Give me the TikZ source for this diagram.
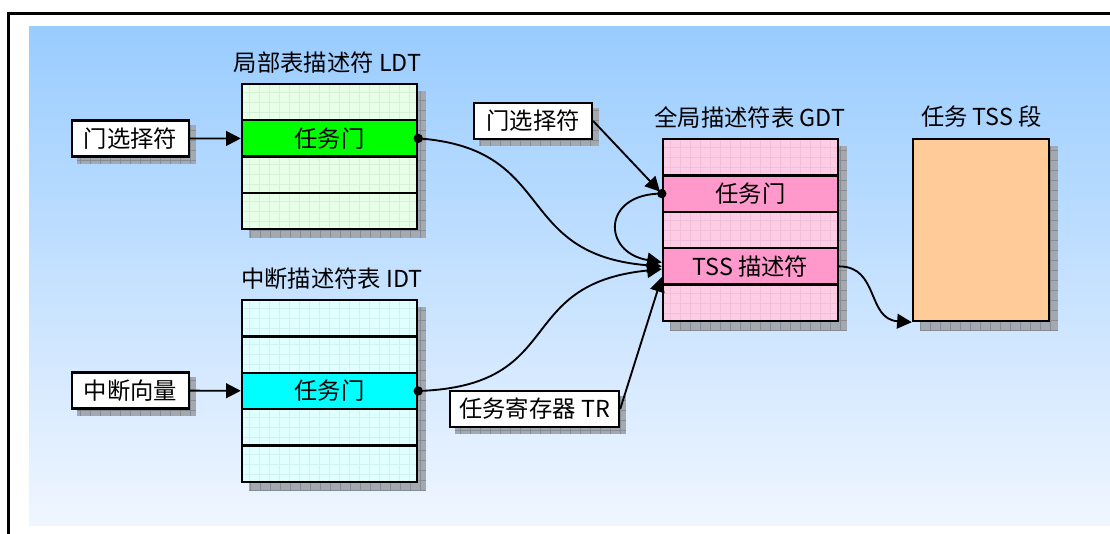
\documentclass[tikz,border=0pt]{standalone}
\usepackage{fontspec}
\newfontfamily\cjk{Noto Sans CJK SC}
\usetikzlibrary{arrows.meta, positioning, backgrounds}
\definecolor{cbgtop}{HTML}{99CCFF}
\definecolor{cbgbot}{HTML}{F0F6FF}
\definecolor{cldt}{HTML}{E6FFE6}
\definecolor{cldtgate}{HTML}{00FF00}
\definecolor{cidt}{HTML}{E0FFFF}
\definecolor{cidtgate}{HTML}{00FFFF}
\definecolor{cgdt}{HTML}{FFCCE6}
\definecolor{cgdtgate}{HTML}{FF99CC}
\definecolor{ctss}{HTML}{FFCC99}
\definecolor{cshadow}{HTML}{A4A9B0}
\definecolor{cshadowgrid}{HTML}{858C96}
\tikzset{
  every picture/.style={font=\cjk\fontsize{17.5}{21}\selectfont},
  cell/.style={draw=black, line width=1.8pt, fill=#1, minimum width=131.25pt, minimum height=27.2pt, inner sep=0pt,
    path picture={\draw[#1!94!black, line width=0.3pt, step=7.5pt] (path picture bounding box.south west) grid (path picture bounding box.north east);}},
  cell/.default=white,
  gate/.style={draw=black, line width=1.8pt, fill=#1, minimum width=131.25pt, minimum height=27.2pt, inner sep=0pt},
  labelbox/.style={draw=black, line width=1.8pt, fill=white, minimum height=27pt, inner sep=0pt},
  link/.style={-{Triangle[length=11pt, width=11pt]}, line width=1.4pt},
  dot/.style={circle, fill=black, inner sep=0pt, minimum size=7pt},
}

\begin{document}
\begin{tikzpicture}[x=0.75pt, y=-0.75pt]
  \useasboundingbox (0,0) rectangle (1110,533);
  \draw[line width=1.8pt] (8.5,545) |- (1120,13.5);
  % local descriptor table
  \node (ldttitle) at (327.5,63) {局部表描述符 LDT};
  \foreach \r in {1,...,4} \node[cell=cldt] (ldt\r) at (329.5,84+36.25*\r-18.125) {};
  \node[gate=cldtgate] (ldtgate) at (ldt2) {任务门};
  \node[labelbox, minimum width=87.75pt] (ldtsel) at (130.5,138.5) {门选择符};
  % interrupt descriptor table
  \node (idttitle) at (332,279) {中断描述符表 IDT};
  \foreach \r in {1,...,5} \node[cell=cidt] (idt\r) at (329.5,300+36.4*\r-18.2) {};
  \node[gate=cidtgate] (idtgate) at (idt3) {任务门};
  \node[labelbox, minimum width=87.75pt] (intvec) at (130.5,390.5) {中断向量};
  % global descriptor table
  \node (gdttitle) at (750,117.5) {全局描述符表 GDT};
  \foreach \r in {1,...,5} \node[cell=cgdt] (gdt\r) at (750.5,139+36.4*\r-18.2) {};
  \node[gate=cgdtgate] (gdtgate) at (gdt2) {任务门};
  \node[gate=cgdtgate] (tssdesc) at (gdt4) {TSS 描述符};
  \node[labelbox, minimum width=88.5pt] (gdtsel) at (533,121) {门选择符};
  \node[labelbox, minimum width=126.75pt] (tr) at (534.5,409) {任务寄存器 TR};
  % task state segment
  \node (tsstitle) at (981.5,117) {任务 TSS 段};
  \node[draw=black, line width=1.8pt, fill=ctss, minimum width=102pt, minimum height=136.5pt] (tss) at (981,230) {};
  % shadows and background
  \begin{scope}[on background layer]
    \shade[top color=cbgtop, bottom color=cbgbot] (29,26) rectangle (1115,525);
    \foreach \a/\b/\d in {ldt1/ldt4/8, idt1/idt5/8, gdt1/gdt5/8, tss/tss/8, ldtsel/ldtsel/6, intvec/intvec/6, gdtsel/gdtsel/6, tr/tr/6} {
      \fill[cshadow] ([shift={(\d,\d)}]\a.north west) rectangle ([shift={(\d,\d)}]\b.south east);
      \draw[cshadowgrid, line width=0.4pt, step=7.5pt] ([shift={(\d,\d)}]\a.north west) grid ([shift={(\d,\d)}]\b.south east);
    }
  \end{scope}
  % connectors
  \draw[link] (ldtsel) -- (ldtgate);
  \draw[link] (intvec) -- (idtgate);
  \draw[link, shorten >=2pt] (gdtsel.east) -- (gdtgate.west);
  \draw[link] (ldtgate.east) .. controls +(140,10) and +(-150,-12) .. (tssdesc.west);
  \draw[link] (idtgate.east) .. controls +(150,-5) and +(-150,15) .. ([yshift=-2pt]tssdesc.west);
  \draw[link] (gdtgate.west) .. controls +(-60,0) and +(-60,-10) .. ([yshift=3pt]tssdesc.west);
  \draw[link] (tr.east) -- ([yshift=-8pt]tssdesc.west);
  \draw[link] (tssdesc.east) .. controls +(40,0) and +(-45,-3) .. (tss.south west);
  \foreach \p in {ldtgate.east, idtgate.east, gdtgate.west} \node[dot] at (\p) {};
\end{tikzpicture}
\end{document}
